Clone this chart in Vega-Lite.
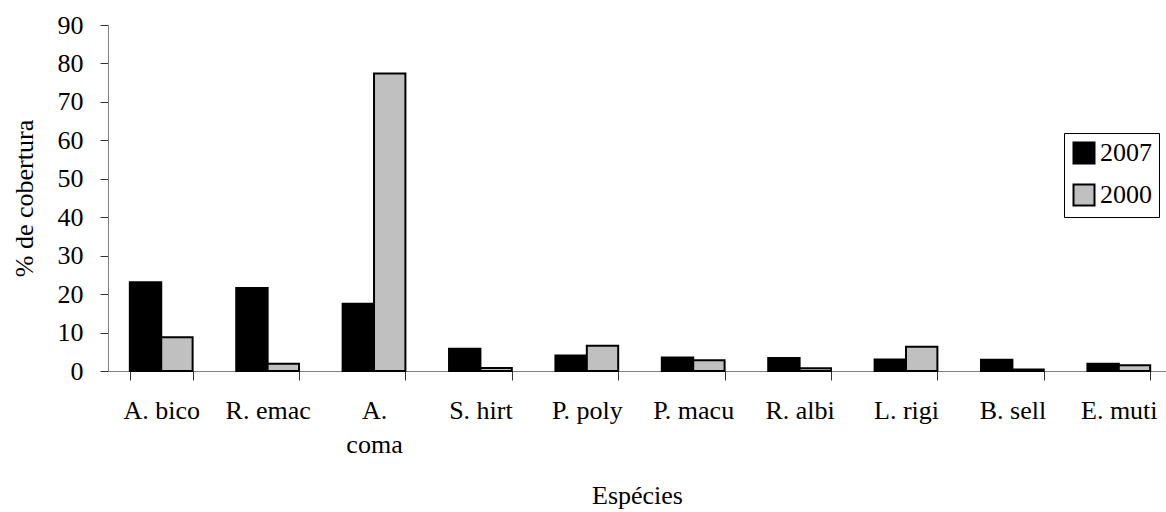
{
  "$schema": "https://vega.github.io/schema/vega-lite/v6.json",
  "width": 1058,
  "height": 346,
  "autosize": {"type": "none"},
  "padding": {"left": 108, "top": 25, "right": 0, "bottom": 141},
  "background": "white",
  "config": {
    "view": {"stroke": null},
    "font": "Liberation Serif",
    "axis": {"labelFont": "Liberation Serif", "titleFont": "Liberation Serif", "labelColor": "black", "titleColor": "black", "titleFontWeight": "normal", "grid": false}
  },
  "data": {
    "values": [
      {"species": "A. bico", "year": "2007", "value": 23.1},
      {"species": "A. bico", "year": "2000", "value": 8.8},
      {"species": "R. emac", "year": "2007", "value": 21.6},
      {"species": "R. emac", "year": "2000", "value": 1.9},
      {"species": "A. coma", "year": "2007", "value": 17.5},
      {"species": "A. coma", "year": "2000", "value": 77.4},
      {"species": "S. hirt", "year": "2007", "value": 5.8},
      {"species": "S. hirt", "year": "2000", "value": 0.8},
      {"species": "P. poly", "year": "2007", "value": 4.0},
      {"species": "P. poly", "year": "2000", "value": 6.6},
      {"species": "P. macu", "year": "2007", "value": 3.5},
      {"species": "P. macu", "year": "2000", "value": 2.8},
      {"species": "R. albi", "year": "2007", "value": 3.4},
      {"species": "R. albi", "year": "2000", "value": 0.7},
      {"species": "L. rigi", "year": "2007", "value": 3.0},
      {"species": "L. rigi", "year": "2000", "value": 6.3},
      {"species": "B. sell", "year": "2007", "value": 2.9},
      {"species": "B. sell", "year": "2000", "value": 0.4},
      {"species": "E. muti", "year": "2007", "value": 1.9},
      {"species": "E. muti", "year": "2000", "value": 1.5}
    ]
  },
  "mark": {"type": "bar", "stroke": "black", "strokeWidth": 2},
  "encoding": {
    "x": {
      "field": "species",
      "type": "nominal",
      "sort": null,
      "scale": {"paddingInner": 0.41, "paddingOuter": 0.177, "align": 0.58},
      "axis": {
        "title": "Espécies",
        "titleFontSize": 26,
        "titlePadding": 25,
        "labelFontSize": 26,
        "labelAngle": 0,
        "labelPadding": 17,
        "labelLineHeight": 34,
        "labelExpr": "datum.value == 'A. coma' ? ['A.', 'coma'] : datum.label",
        "tickBand": "extent",
        "tickSize": 9,
        "tickColor": "#333333",
        "domainColor": "#808080",
        "labelOverlap": false,
        "labelLimit": 0
      }
    },
    "xOffset": {"field": "year", "type": "nominal", "sort": ["2007", "2000"]},
    "y": {
      "field": "value",
      "type": "quantitative",
      "scale": {"domain": [0, 90], "nice": false},
      "axis": {
        "title": "% de cobertura",
        "titleFontSize": 26,
        "titlePadding": 20,
        "labelFontSize": 26,
        "labelPadding": 17,
        "tickSize": 8,
        "values": [0, 10, 20, 30, 40, 50, 60, 70, 80, 90],
        "tickColor": "#333333",
        "domainColor": "#808080"
      }
    },
    "fill": {
      "field": "year",
      "type": "nominal",
      "sort": ["2007", "2000"],
      "scale": {"domain": ["2007", "2000"], "range": ["#000000", "#c0c0c0"]},
      "legend": {
        "title": null,
        "orient": "none",
        "legendX": 956,
        "legendY": 108,
        "strokeColor": "black",
        "fillColor": "white",
        "padding": 7,
        "symbolType": "square",
        "symbolSize": 441,
        "symbolStrokeColor": "black",
        "symbolStrokeWidth": 2,
        "labelFont": "Liberation Serif",
        "labelFontSize": 26,
        "labelColor": "black",
        "labelOffset": 3,
        "rowPadding": 12
      }
    }
  }
}
